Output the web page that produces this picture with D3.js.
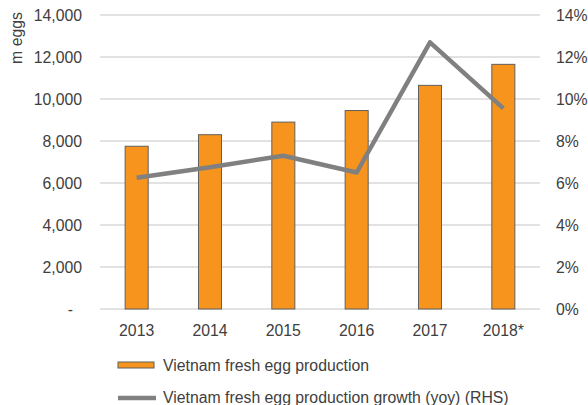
<!DOCTYPE html>
<html>
<head>
<meta charset="utf-8">
<script src="https://cdn.jsdelivr.net/npm/d3@7"></script>
<style>
  body { margin: 0; background: #fff; }
  text { font-family: "Liberation Sans", Arial, sans-serif; fill: #404040; }
</style>
</head>
<body>
<div id="chart"></div>
<script>
const years = ["2013", "2014", "2015", "2016", "2017", "2018*"];
const production = [7750, 8300, 8900, 9450, 10650, 11650];
const growth = [6.25, 6.75, 7.3, 6.5, 12.7, 9.55];
const leftTicks = [0, 2000, 4000, 6000, 8000, 10000, 12000, 14000];
const rightTicks = [0, 2, 4, 6, 8, 10, 12, 14];

const margin = { top: 15, right: 48, bottom: 96, left: 100 };
const W = 588, H = 405;
const width = W - margin.left - margin.right;
const height = H - margin.top - margin.bottom;
const fontSize = "15.8px";

const svg = d3.select("#chart")
  .append("svg")
    .attr("width", W)
    .attr("height", H)
  .append("g")
    .attr("transform", `translate(${margin.left},${margin.top})`);

const x = d3.scaleBand()
    .domain(years)
    .range([0, width])
    .paddingInner(0.686)
    .paddingOuter(0.343);

const yL = d3.scaleLinear().domain([0, 14000]).range([height, 0]);
const yR = d3.scaleLinear().domain([0, 14]).range([height, 0]);

// gridlines
svg.append("g")
  .selectAll("line")
  .data(leftTicks)
  .join("line")
    .attr("x1", 0)
    .attr("x2", width)
    .attr("y1", d => yL(d))
    .attr("y2", d => yL(d))
    .attr("stroke", "#d9d9d9")
    .attr("stroke-width", 1.3);

// left axis
const fmt = d3.format(",");
const gL = svg.append("g")
    .call(d3.axisLeft(yL).tickValues(leftTicks).tickSize(0).tickPadding(18)
      .tickFormat(d => d === 0 ? "-" : fmt(d)));
gL.select(".domain").remove();
gL.selectAll("text")
    .style("font-size", fontSize)
    .attr("fill", "#404040")
    .filter(d => d === 0)
    .attr("x", -27);

// right axis
const gR = svg.append("g")
    .attr("transform", `translate(${width},0)`)
    .call(d3.axisRight(yR).tickValues(rightTicks).tickSize(0).tickPadding(16)
      .tickFormat(d => d + "%"));
gR.select(".domain").remove();
gR.selectAll("text").style("font-size", fontSize).attr("fill", "#404040");

// x axis
const gX = svg.append("g")
    .attr("transform", `translate(0,${height})`)
    .call(d3.axisBottom(x).tickSize(0).tickPadding(16));
gX.select(".domain").remove();
gX.selectAll("text").style("font-size", fontSize).attr("fill", "#404040");

// y label
svg.append("text")
    .attr("transform", "rotate(-90)")
    .attr("x", -23)
    .attr("y", -78)
    .style("text-anchor", "middle")
    .style("font-size", fontSize)
    .text("m eggs");

// bars
svg.selectAll(".bar")
  .data(production)
  .join("rect")
    .attr("class", "bar")
    .attr("x", (d, i) => x(years[i]))
    .attr("y", d => yL(d))
    .attr("width", x.bandwidth())
    .attr("height", d => height - yL(d))
    .attr("fill", "#f7941d")
    .attr("stroke", "#5f5f5f")
    .attr("stroke-width", 1);

// line
const line = d3.line()
    .x((d, i) => x(years[i]) + x.bandwidth() / 2)
    .y(d => yR(d));

svg.append("path")
    .datum(growth)
    .attr("d", line)
    .attr("fill", "none")
    .attr("stroke", "#808080")
    .attr("stroke-width", 4.5)
    .attr("stroke-linejoin", "round");

// legend
const legend = svg.append("g").attr("transform", `translate(18,${height + 53})`);
legend.append("rect")
    .attr("x", 0).attr("y", 0)
    .attr("width", 36).attr("height", 6)
    .attr("fill", "#f7941d")
    .attr("stroke", "#5f5f5f");
legend.append("text")
    .attr("x", 45).attr("y", 9)
    .style("font-size", fontSize)
    .text("Vietnam fresh egg production");
legend.append("line")
    .attr("x1", 0).attr("x2", 38)
    .attr("y1", 36).attr("y2", 36)
    .attr("stroke", "#808080")
    .attr("stroke-width", 4.5);
legend.append("text")
    .attr("x", 45).attr("y", 41)
    .style("font-size", fontSize)
    .text("Vietnam fresh egg production growth (yoy) (RHS)");
</script>
</body>
</html>
